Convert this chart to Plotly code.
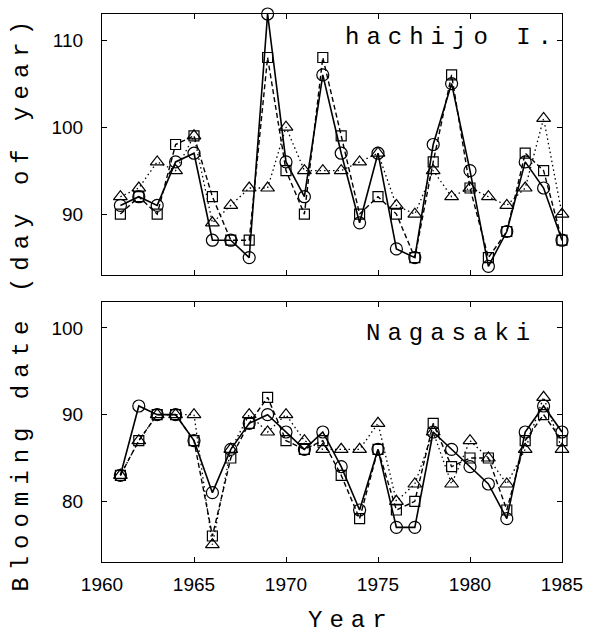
import plotly.graph_objects as go

years = list(range(1961, 1986))

# Hachijo I.
hachijo_circle = [91, 92, 91, 96, 97, 87, 87, 85, 113, 96, 92, 106, 97, 89, 97, 86, 85, 98, 105, 95, 84, 88, 96, 93, 87]
hachijo_square = [90, 92, 90, 98, 99, 92, 87, 87, 108, 95, 90, 108, 99, 90, 92, 90, 85, 96, 106, 93, 85, 88, 97, 95, 87]
hachijo_triangle = [92, 93, 96, 95, 99, 89, 91, 93, 93, 100, 95, 95, 95, 96, 97, 91, 90, 95, 92, 93, 92, 91, 93, 101, 90]

# Nagasaki
nagasaki_circle = [83, 91, 90, 90, 87, 81, 86, 89, 90, 88, 86, 88, 84, 79, 86, 77, 77, 88, 86, 84, 82, 78, 88, 91, 88]
nagasaki_square = [83, 87, 90, 90, 87, 76, 85, 89, 92, 87, 86, 87, 83, 78, 86, 79, 80, 89, 84, 85, 85, 79, 87, 90, 87]
nagasaki_triangle = [83, 87, 90, 90, 90, 75, 86, 90, 88, 90, 87, 86, 86, 86, 89, 80, 82, 88, 82, 87, 85, 82, 86, 92, 86]

x_ticks = [1960, 1965, 1970, 1975, 1980, 1985]
top_ticks = [90, 100, 110]
bottom_ticks = [80, 90, 100]

styles = [
    ("circle-open", "solid", 12, 1.6),
    ("square-open", "5px,3px", 10, 1.4),
    ("triangle-up-open", "1.5px,3px", 12, 1.3),
]

fig = go.Figure()

def add_series(vals_list, xa, ya):
    for vals, (sym, dash, msize, lw) in zip(vals_list, styles):
        fig.add_trace(go.Scatter(
            x=years, y=vals, xaxis=xa, yaxis=ya, mode="lines+markers",
            line=dict(color="black", width=lw, dash=dash),
            marker=dict(symbol=sym, size=msize, color="black",
                        line=dict(color="black", width=1.2)),
            showlegend=False, cliponaxis=False))

add_series([hachijo_circle, hachijo_square, hachijo_triangle], "x", "y")
add_series([nagasaki_circle, nagasaki_square, nagasaki_triangle], "x2", "y2")

tickfont = dict(family="Liberation Sans Narrow, Liberation Sans, Arial, sans-serif", size=19, color="black")
mono = "Liberation Mono, Courier New, monospace"

common_x = dict(range=[1960, 1985], tickvals=x_ticks, ticks="inside", ticklen=5,
                showline=True, linecolor="black", linewidth=1.2, mirror="ticks",
                showgrid=False, zeroline=False, tickcolor="black", tickfont=tickfont)
common_y = dict(ticks="inside", ticklen=5, showline=True, linecolor="black", linewidth=1.2,
                mirror="ticks", showgrid=False, zeroline=False, tickcolor="black",
                tickfont=tickfont, ticklabelstandoff=14)

fig.update_layout(
    width=595, height=633,
    margin=dict(l=102, r=23, t=14, b=71),
    paper_bgcolor="white", plot_bgcolor="white",
    xaxis=dict(**common_x, domain=[0, 1], anchor="y", showticklabels=False),
    yaxis=dict(**common_y, domain=[0.5237, 1], range=[83, 113], tickvals=top_ticks, anchor="x"),
    xaxis2=dict(**common_x, domain=[0, 1], anchor="y2", ticklabelstandoff=5),
    yaxis2=dict(**common_y, domain=[0, 0.4745], range=[73, 103], tickvals=bottom_ticks, anchor="x2"),
)

def spaced(s, px):
    return f'<span style="letter-spacing:{px}px">{s}</span>'

fig.add_annotation(text=spaced("hachijo I.", 7), xref="x", yref="y", x=1979.0, y=110.3,
                   showarrow=False, font=dict(family=mono, size=24, color="black"),
                   xanchor="center", yanchor="middle")
fig.add_annotation(text=spaced("Nagasaki", 7), xref="x2", yref="y2", x=1979.0, y=99.4,
                   showarrow=False, font=dict(family=mono, size=24, color="black"),
                   xanchor="center", yanchor="middle")
fig.add_annotation(text=spaced("Blooming date (day of year)", 7), xref="paper", yref="paper",
                   x=-0.174, y=0.473, textangle=-90, showarrow=False,
                   font=dict(family=mono, size=24, color="black"),
                   xanchor="center", yanchor="middle")
fig.add_annotation(text=spaced("Year", 7), xref="paper", yref="paper",
                   x=0.542, y=-0.106, showarrow=False,
                   font=dict(family=mono, size=24, color="black"),
                   xanchor="center", yanchor="middle")

fig.write_html("out.html")
